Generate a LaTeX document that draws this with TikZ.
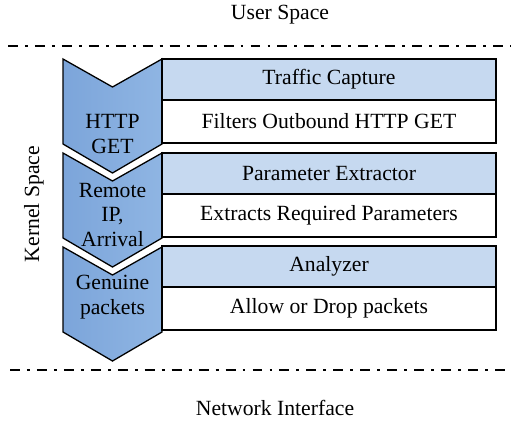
\documentclass[tikz,border=0pt]{standalone}
\usepackage{fontspec}
\setmainfont{Liberation Serif}
\usetikzlibrary{positioning}
\definecolor{chevblue}{RGB}{143,181,227}
\definecolor{chevdark}{RGB}{124,165,218}
\definecolor{headblue}{RGB}{198,217,240}

\begin{document}
\begin{tikzpicture}[x=0.03cm, y=-0.03cm,
    every node/.style={font=\fontsize{18.5}{21}\selectfont, align=center, inner sep=1pt},
    hdr/.style={draw, line width=1.5pt, outer sep=0pt, fill=headblue, minimum width=10.02cm, minimum height=1.23cm},
    body/.style={draw, line width=1.5pt, outer sep=0pt, fill=white, minimum width=10.02cm, minimum height=1.29cm},
    chev/.style={draw, line width=1.1pt, line join=miter, left color=chevdark, right color=chevblue},
    sep/.style={line width=2.2pt, dash pattern=on 8.5pt off 6pt on 2.5pt off 6pt}
]
\useasboundingbox (0,0) rectangle (511,423);

% layer borders
\draw[sep] (8,46) -- (511,46);
\draw[sep] (10,370) -- (511,370);
\node (user) at (280,15) {User Space};
\node (net) at (275,408) {Network Interface};
\node[rotate=90] (kernel) at (34,204) {Kernel Space};

% chevrons
\foreach \t in {59,153,247}
    \draw[chev] (63,\t) -- (112.5,\t+28) -- (162,\t) -- (162,\t+85) -- (112.5,\t+114) -- (63,\t+85) -- cycle;
\node (http) at (112.5,134) {HTTP\\GET};
\node (remote) at (112.5,215) {Remote\\IP,\\Arrival};
\node (genuine) at (112.5,297) {Genuine\\packets};

% modules
\node[hdr] (capture) at (329,79.5) {Traffic Capture};
\node[body, below=0pt of capture] (filter) {Filters Outbound HTTP GET};
\node[hdr, below=0.3cm of filter] (extractor) {Parameter Extractor};
\node[body, below=0pt of extractor] (extract) {Extracts Required Parameters};
\node[hdr, below=0.27cm of extract] (analyzer) {Analyzer};
\node[body, below=0pt of analyzer] (allow) {Allow or Drop packets};
\end{tikzpicture}
\end{document}
